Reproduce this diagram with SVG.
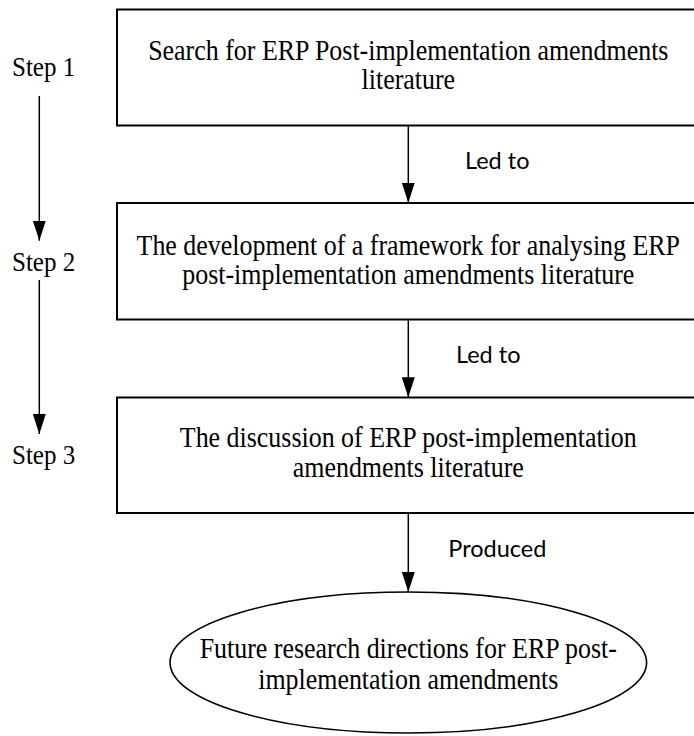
<svg xmlns="http://www.w3.org/2000/svg" width="694" height="736" viewBox="0 0 694 736">
<style>
.box{fill:#fff;stroke:#000;stroke-width:2}
.ell{fill:#fff;stroke:#000;stroke-width:1.6}
.t{font-family:"Liberation Serif","Times New Roman",serif;font-size:28.5px;fill:#000;text-anchor:middle}
.step{font-family:"Liberation Serif","Times New Roman",serif;font-size:27.5px;fill:#000}
.lbl{font-family:Lato,"Liberation Sans",sans-serif;font-size:23.5px;fill:#000}
.conn line{stroke:#000;stroke-width:1.5;marker-end:url(#ah)}
</style>
<defs>
<marker id="ah" markerUnits="userSpaceOnUse" markerWidth="20" markerHeight="13" refX="20" refY="6.5" orient="auto">
<path d="M0,0 L20,6.5 L0,13 z" fill="#000"/>
</marker>
</defs>
<rect width="694" height="736" fill="#fff"/>
<g id="steps">
<text class="step" transform="translate(12,76) scale(0.91,1)">Step 1</text>
<text class="step" transform="translate(12,271) scale(0.91,1)">Step 2</text>
<text class="step" transform="translate(12,464) scale(0.91,1)">Step 3</text>
</g>
<g id="box1">
<rect class="box" x="117" y="9.5" width="583" height="116"/>
<text class="t" transform="translate(408.3,60) scale(0.91,1)">Search for ERP Post-implementation amendments</text>
<text class="t" transform="translate(408.3,89) scale(0.91,1)">literature</text>
</g>
<g id="box2">
<rect class="box" x="117" y="203" width="583" height="116.5"/>
<text class="t" transform="translate(408.3,255) scale(0.91,1)">The development of a framework for analysing ERP</text>
<text class="t" transform="translate(408.3,283.5) scale(0.91,1)">post-implementation amendments literature</text>
</g>
<g id="box3">
<rect class="box" x="117" y="397.5" width="583" height="115.5"/>
<text class="t" transform="translate(408.3,447) scale(0.91,1)">The discussion of ERP post-implementation</text>
<text class="t" transform="translate(408.3,477) scale(0.91,1)">amendments literature</text>
</g>
<g id="future">
<ellipse class="ell" cx="408.3" cy="662.5" rx="238.3" ry="70.5"/>
<text class="t" transform="translate(408.3,658) scale(0.91,1)">Future research directions for ERP post-</text>
<text class="t" transform="translate(408.3,688.5) scale(0.91,1)">implementation amendments</text>
</g>
<g id="connectors" class="conn">
<line x1="39.3" y1="96" x2="39.3" y2="240.7"/>
<line x1="39.3" y1="280" x2="39.3" y2="434"/>
<line x1="408.3" y1="126.5" x2="408.3" y2="202.7"/>
<line x1="408.3" y1="320.5" x2="408.3" y2="397.3"/>
<line x1="408.3" y1="514" x2="408.3" y2="592"/>
</g>
<g id="labels">
<text class="lbl" x="465" y="169">Led to</text>
<text class="lbl" x="456" y="363">Led to</text>
<text class="lbl" x="448.3" y="557">Produced</text>
</g>
</svg>
